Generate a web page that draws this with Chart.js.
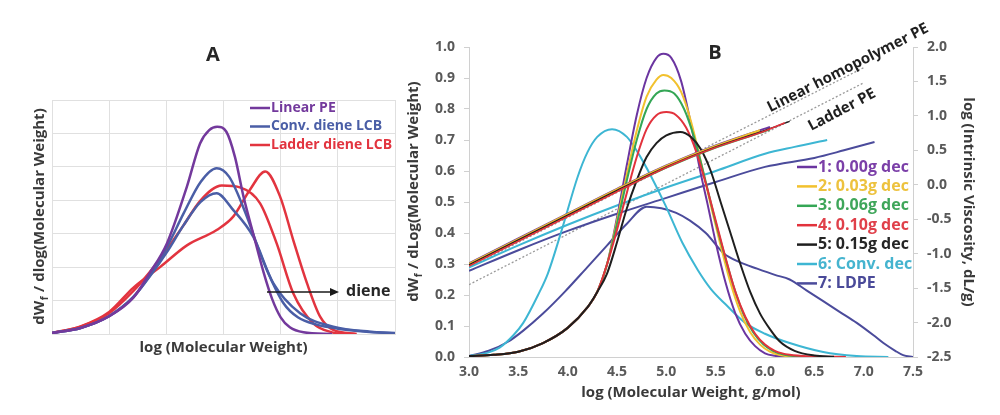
<!DOCTYPE html>
<html>
<head>
<meta charset="utf-8">
<script src="https://cdn.jsdelivr.net/npm/chart.js@4.4.1/dist/chart.umd.min.js"></script>
<style>
html,body{margin:0;padding:0;background:#fff;width:1000px;height:415px;overflow:hidden}
#wa{position:absolute;left:0;top:0;width:400px;height:415px}
#wb{position:absolute;left:380px;top:0;width:620px;height:415px}
canvas{display:block}
</style>
</head>
<body>
<div id="wa"><canvas id="ca" width="400" height="415"></canvas></div>
<div id="wb"><canvas id="cb" width="620" height="415"></canvas></div>
<script>
// ================= DATA =================
// ---- Panel A (schematic, arbitrary units: x 0..6, y 0..7) ----
const aLegendLabels = ['Linear PE', 'Conv. diene LCB', 'Ladder diene LCB'];
const aArrowLabel = 'diene';
const aLinearX = [0, 0.5, 1.0, 1.42, 1.7, 2.01, 2.36, 2.59, 2.75, 2.89, 3.05, 3.2, 3.35, 3.52, 3.7, 3.85, 4.0, 4.16, 4.4, 4.9];
const aLinearY = [0.03, 0.18, 0.53, 1.08, 1.8, 2.71, 4.41, 5.7, 6.1, 6.2, 6.05, 5.3, 4.11, 3.0, 1.85, 1.05, 0.5, 0.2, 0.05, 0];
const aConv1X = [0, 0.5, 1.0, 1.42, 1.71, 2.01, 2.3, 2.6, 2.88, 3.1, 3.41, 3.6, 3.76, 4.05, 4.3, 4.63, 5.0, 5.5, 6.0];
const aConv1Y = [0.03, 0.18, 0.53, 1.1, 1.75, 2.6, 3.6, 4.55, 4.96, 4.7, 3.51, 2.6, 1.91, 0.92, 0.5, 0.28, 0.16, 0.07, 0.02];
const aConv2X = [0, 0.5, 1.0, 1.42, 1.71, 2.01, 2.3, 2.6, 2.88, 3.15, 3.52, 3.87, 4.34, 4.92, 5.56, 6.0];
const aConv2Y = [0.03, 0.18, 0.54, 1.1, 1.72, 2.45, 3.25, 3.95, 4.21, 3.75, 2.91, 1.52, 0.62, 0.22, 0.07, 0.03];
const aLadder1X = [0, 0.5, 1.0, 1.42, 1.71, 2.0, 2.3, 2.6, 2.97, 3.3, 3.64, 3.93, 4.22, 4.57, 4.9, 5.1];
const aLadder1Y = [0.03, 0.22, 0.62, 1.28, 1.85, 2.5, 3.25, 4.0, 4.44, 4.38, 3.91, 2.71, 1.22, 0.32, 0.05, 0];
const aLadder2X = [0, 0.5, 1.0, 1.42, 1.89, 2.36, 2.88, 3.17, 3.46, 3.73, 3.99, 4.22, 4.46, 4.69, 4.92, 5.33];
const aLadder2Y = [0.03, 0.23, 0.66, 1.38, 2.0, 2.65, 3.11, 3.51, 4.31, 4.86, 4.11, 2.81, 1.52, 0.52, 0.12, 0];

// ---- Panel B ----
const bLegendLabels = ['1: 0.00g dec', '2: 0.03g dec', '3: 0.06g dec', '4: 0.10g dec', '5: 0.15g dec', '6: Conv. dec', '7: LDPE'];
const refLabels = ['Linear homopolymer PE', 'Ladder PE'];
// MWD curves, left axis: dWf/dLog(M)
const m1X = [3.0,3.25,3.5,3.75,4.0,4.2,4.3,4.4,4.5,4.6,4.7,4.8,4.9,4.97,5.05,5.15,5.25,5.35,5.42,5.5,5.6,5.7,5.8,5.9,6.0,6.1,6.2];
const m1Y = [0.003,0.007,0.017,0.045,0.094,0.16,0.21,0.30,0.45,0.62,0.78,0.90,0.965,0.978,0.965,0.89,0.75,0.59,0.49,0.37,0.24,0.14,0.075,0.035,0.012,0.004,0.001];
const m2X = [3.0,3.25,3.5,3.75,4.0,4.2,4.3,4.4,4.5,4.6,4.7,4.8,4.9,4.97,5.05,5.15,5.25,5.35,5.45,5.55,5.65,5.75,5.85,5.95,6.05,6.15,6.3];
const m2Y = [0.003,0.007,0.017,0.045,0.094,0.16,0.21,0.30,0.44,0.59,0.73,0.84,0.895,0.91,0.9,0.855,0.76,0.63,0.49,0.36,0.24,0.145,0.08,0.04,0.017,0.006,0.001];
const m3X = [3.0,3.25,3.5,3.75,4.0,4.2,4.3,4.4,4.5,4.6,4.7,4.8,4.9,4.98,5.08,5.18,5.28,5.38,5.48,5.58,5.68,5.78,5.88,5.98,6.08,6.2,6.4];
const m3Y = [0.003,0.007,0.017,0.045,0.094,0.16,0.21,0.30,0.43,0.57,0.70,0.80,0.85,0.86,0.85,0.80,0.71,0.59,0.46,0.34,0.23,0.14,0.08,0.042,0.02,0.007,0.001];
const m4X = [3.0,3.25,3.5,3.75,4.0,4.2,4.3,4.4,4.5,4.6,4.7,4.8,4.9,5.0,5.1,5.2,5.3,5.4,5.5,5.6,5.7,5.8,5.9,6.0,6.1,6.25,6.5,6.82];
const m4Y = [0.003,0.007,0.017,0.045,0.094,0.16,0.21,0.30,0.41,0.53,0.645,0.735,0.78,0.79,0.78,0.74,0.665,0.56,0.44,0.32,0.21,0.13,0.075,0.04,0.02,0.007,0.002,0];
const m5X = [3.0,3.25,3.5,3.75,4.0,4.2,4.3,4.4,4.5,4.6,4.7,4.8,4.9,5.0,5.14,5.25,5.35,5.45,5.55,5.65,5.75,5.85,5.95,6.05,6.15,6.3,6.5,6.7];
const m5Y = [0.003,0.007,0.017,0.045,0.094,0.16,0.21,0.27,0.37,0.48,0.57,0.645,0.69,0.715,0.726,0.71,0.67,0.6,0.5,0.4,0.3,0.21,0.14,0.09,0.05,0.02,0.005,0.001];
const m6X = [3.0,3.2,3.31,3.45,3.55,3.7,3.8,3.95,4.1,4.2,4.3,4.45,4.6,4.71,4.85,4.99,5.16,5.32,5.45,5.6,5.8,6.0,6.25,6.59,6.93,7.25];
const m6Y = [0.003,0.015,0.03,0.07,0.11,0.2,0.27,0.42,0.58,0.66,0.71,0.735,0.71,0.66,0.58,0.49,0.37,0.28,0.22,0.17,0.11,0.075,0.045,0.016,0.003,0];
const m7X = [3.0,3.2,3.4,3.55,3.75,3.97,4.2,4.4,4.6,4.8,4.95,5.1,5.24,5.4,5.58,5.75,5.92,6.1,6.25,6.42,6.59,6.76,6.93,7.1,7.2,7.32,7.4,7.5];
const m7Y = [0.003,0.02,0.05,0.085,0.14,0.21,0.29,0.36,0.43,0.485,0.48,0.465,0.44,0.4,0.335,0.305,0.285,0.265,0.25,0.215,0.18,0.145,0.11,0.07,0.045,0.02,0.006,0];
// intrinsic viscosity curves, right axis: log [eta]
const v1X = [3.0,3.5,4.0,4.5,5.0,5.5,6.05];
const v1Y = [-1.14,-0.78,-0.42,-0.06,0.28,0.57,0.84];
const v2X = [3.0,3.5,4.0,4.5,5.0,5.5,5.95];
const v2Y = [-1.15,-0.79,-0.43,-0.07,0.27,0.56,0.79];
const v3X = [3.0,3.5,4.0,4.5,5.0,5.5,6.05];
const v3Y = [-1.17,-0.81,-0.45,-0.09,0.25,0.54,0.8];
const v4X = [3.0,3.5,4.0,4.5,5.0,5.5,6.0,6.2];
const v4Y = [-1.18,-0.82,-0.46,-0.1,0.25,0.54,0.78,0.9];
const v5X = [3.0,3.5,4.0,4.5,5.0,5.5,6.0,6.25];
const v5Y = [-1.16,-0.8,-0.44,-0.08,0.26,0.55,0.79,0.92];
const v6X = [3.0,3.5,4.0,4.5,5.0,5.5,6.0,6.3,6.63];
const v6Y = [-1.2,-0.88,-0.58,-0.3,-0.04,0.2,0.45,0.55,0.65];
const v7X = [3.0,3.5,4.0,4.5,5.0,5.5,6.0,6.5,6.8,7.11];
const v7Y = [-1.25,-0.95,-0.67,-0.42,-0.19,0.04,0.26,0.39,0.5,0.62];
// reference (dotted) Mark-Houwink lines
const refLinearX = [3.0, 7.0];
const refLinearY = [-1.2, 1.7];
const refLadderX = [3.0, 7.0];
const refLadderY = [-1.45, 1.48];

// ================= STYLE =================
const FONT = "'Open Sans', 'DejaVu Sans', sans-serif";
const colA = ['#73399C', '#4A5EA6', '#E2343F'];
const colB = ['#6B35A0', '#F2C12E', '#34A655', '#E2323C', '#1E1E1E', '#3DB6D3', '#4B4B9B'];
const txtB = ['#7B3FA8', '#EDC23E', '#3FA65A', '#E0404A', '#262626', '#45B4CF', '#4A4A99'];
const pts = (xs, ys) => xs.map((x, i) => ({x: x, y: ys[i]}));

function drawSubTitle(ctx, x, y, a, sub, b, size) {
  ctx.save();
  ctx.translate(x, y);
  ctx.rotate(-Math.PI / 2);
  ctx.fillStyle = '#3a3a3a';
  ctx.textBaseline = 'middle';
  ctx.textAlign = 'left';
  const fMain = `bold ${size}px ${FONT}`;
  const fSub = `bold ${Math.round(size * 0.65)}px ${FONT}`;
  ctx.font = fMain;
  const wa = ctx.measureText(a).width, wb = ctx.measureText(b).width;
  ctx.font = fSub;
  const ws = ctx.measureText(sub).width;
  let cx = -(wa + ws + wb) / 2;
  ctx.font = fMain; ctx.fillText(a, cx, 0); cx += wa;
  ctx.font = fSub; ctx.fillText(sub, cx + 0.5, size * 0.32); cx += ws + 1;
  ctx.font = fMain; ctx.fillText(b, cx, 0);
  ctx.restore();
}

// ================= PANEL A =================
const panelAPlugin = {
  id: 'panelA',
  afterDraw(chart) {
    const ctx = chart.ctx, ca = chart.chartArea;
    ctx.save();
    ctx.fillStyle = '#262626';
    ctx.font = `bold 20px ${FONT}`;
    ctx.textAlign = 'center';
    ctx.textBaseline = 'middle';
    ctx.fillText('A', 213, 55);
    drawSubTitle(ctx, 40, (ca.top + ca.bottom) / 2, 'dW', 'f', ' / dlog(Molecular Weight)', 15);
    // legend
    ctx.font = `bold 14px ${FONT}`;
    ctx.textAlign = 'left';
    aLegendLabels.forEach((lab, i) => {
      const y = 108 + i * 18.5;
      ctx.strokeStyle = colA[i];
      ctx.lineWidth = 2.5;
      ctx.beginPath(); ctx.moveTo(250, y); ctx.lineTo(270, y); ctx.stroke();
      ctx.fillStyle = colA[i];
      ctx.fillText(lab, 271, y);
    });
    // arrow
    ctx.strokeStyle = '#1a1a1a';
    ctx.lineWidth = 1.5;
    ctx.beginPath(); ctx.moveTo(267, 292); ctx.lineTo(332, 292); ctx.stroke();
    ctx.fillStyle = '#1a1a1a';
    ctx.beginPath(); ctx.moveTo(339, 292); ctx.lineTo(330, 288); ctx.lineTo(330, 296); ctx.closePath(); ctx.fill();
    ctx.font = `bold 16px ${FONT}`;
    ctx.fillStyle = '#262626';
    ctx.fillText(aArrowLabel, 346, 291);
    ctx.restore();
  }
};

const gridA = {color: '#e0e0e0', lineWidth: 1, drawTicks: false};
new Chart(document.getElementById('ca'), {
  type: 'line',
  data: {
    datasets: [
      {label: aLegendLabels[0], data: pts(aLinearX, aLinearY), borderColor: colA[0]},
      {label: aLegendLabels[1], data: pts(aConv1X, aConv1Y), borderColor: colA[1]},
      {label: aLegendLabels[1] + ' (b)', data: pts(aConv2X, aConv2Y), borderColor: colA[1]},
      {label: aLegendLabels[2], data: pts(aLadder1X, aLadder1Y), borderColor: colA[2]},
      {label: aLegendLabels[2] + ' (b)', data: pts(aLadder2X, aLadder2Y), borderColor: colA[2]}
    ]
  },
  options: {
    responsive: false,
    animation: false,
    layout: {padding: {top: 100, right: 5, left: 0, bottom: 0}, autoPadding: false},
    plugins: {legend: {display: false}, tooltip: {enabled: false}},
    elements: {point: {radius: 0}, line: {cubicInterpolationMode: 'monotone', borderWidth: 2.5, fill: false}},
    scales: {
      x: {
        type: 'linear', min: 0, max: 6,
        ticks: {display: false, stepSize: 1},
        grid: gridA, border: {color: '#e0e0e0'},
        title: {display: true, text: 'log (Molecular Weight)', color: '#3a3a3a', font: {family: FONT, size: 15, weight: 'bold'}, padding: {top: 0, bottom: 58}},
        afterFit(s) { s.height = 81; }
      },
      y: {
        type: 'linear', min: 0, max: 7,
        ticks: {display: false, stepSize: 1},
        grid: gridA, border: {color: '#e0e0e0'},
        afterFit(s) { s.width = 52; }
      }
    }
  },
  plugins: [panelAPlugin]
});

// ================= PANEL B =================
const panelBPlugin = {
  id: 'panelB',
  afterDraw(chart) {
    const ctx = chart.ctx;
    ctx.save();
    ctx.fillStyle = '#262626';
    ctx.font = `bold 20px ${FONT}`;
    ctx.textAlign = 'center';
    ctx.textBaseline = 'middle';
    ctx.fillText('B', 335, 53);
    drawSubTitle(ctx, 34, 192, 'dW', 'f', ' / dLog(Molecular Weight)', 15);
    // legend
    ctx.font = `bold 16px ${FONT}`;
    ctx.textAlign = 'left';
    bLegendLabels.forEach((lab, i) => {
      const y = 167 + i * 19.4;
      ctx.strokeStyle = colB[i];
      ctx.lineWidth = 2.5;
      ctx.beginPath(); ctx.moveTo(417, y); ctx.lineTo(437, y); ctx.stroke();
      ctx.fillStyle = txtB[i];
      ctx.fillText(lab, 438, y);
    });
    // rotated reference line labels
    ctx.fillStyle = '#1f1f1f';
    ctx.font = `bold 15px ${FONT}`;
    ctx.textAlign = 'center';
    ctx.save();
    ctx.translate(468, 68); ctx.rotate(-27 * Math.PI / 180);
    ctx.fillText(refLabels[0], 0, 0);
    ctx.restore();
    ctx.save();
    ctx.translate(462, 110); ctx.rotate(-28 * Math.PI / 180);
    ctx.fillText(refLabels[1], 0, 0);
    ctx.restore();
    ctx.restore();
  }
};

const tickFontB = {family: FONT, size: 14, weight: 'bold'};
const mwd = (xs, ys, i) => ({label: bLegendLabels[i], data: pts(xs, ys), borderColor: colB[i], borderWidth: 2, yAxisID: 'y'});
const visc = (xs, ys, i, w) => ({label: bLegendLabels[i] + ' [eta]', data: pts(xs, ys), borderColor: colB[i], borderWidth: w, yAxisID: 'y2'});

// dataset index 0 is drawn on top
new Chart(document.getElementById('cb'), {
  type: 'line',
  data: {
    datasets: [
      visc(v4X, v4Y, 3, 1.6),
      visc(v5X, v5Y, 4, 1.4),
      visc(v2X, v2Y, 1, 2.4),
      visc(v3X, v3Y, 2, 2),
      visc(v1X, v1Y, 0, 2),
      mwd(m5X, m5Y, 4),
      mwd(m4X, m4Y, 3),
      mwd(m3X, m3Y, 2),
      mwd(m2X, m2Y, 1),
      mwd(m1X, m1Y, 0),
      mwd(m6X, m6Y, 5),
      mwd(m7X, m7Y, 6),
      visc(v6X, v6Y, 5, 2),
      visc(v7X, v7Y, 6, 2),
      {label: refLabels[0], data: pts(refLinearX, refLinearY), borderColor: '#9a9a9a', borderWidth: 1.3, borderDash: [2, 2], yAxisID: 'y2', cubicInterpolationMode: 'default', tension: 0},
      {label: refLabels[1], data: pts(refLadderX, refLadderY), borderColor: '#9a9a9a', borderWidth: 1.3, borderDash: [2, 2], yAxisID: 'y2', cubicInterpolationMode: 'default', tension: 0}
    ]
  },
  options: {
    responsive: false,
    animation: false,
    layout: {padding: {top: 47, right: 0, left: 0, bottom: 0}, autoPadding: false},
    plugins: {legend: {display: false}, tooltip: {enabled: false}},
    elements: {point: {radius: 0}, line: {cubicInterpolationMode: 'monotone', fill: false}},
    scales: {
      x: {
        type: 'linear', min: 3, max: 7.5,
        ticks: {stepSize: 0.5, color: '#595959', font: tickFontB, padding: 3, callback: v => Number(v).toFixed(1)},
        grid: {drawOnChartArea: false, drawTicks: true, tickLength: 4, tickColor: 'rgba(0,0,0,0)'},
        border: {color: '#d0d0d0'},
        title: {display: true, text: 'log (Molecular Weight, g/mol)', color: '#3a3a3a', font: {family: FONT, size: 15, weight: 'bold'}, padding: {top: 0, bottom: 13}},
        afterFit(s) { s.height = 58; }
      },
      y: {
        type: 'linear', position: 'left', min: 0, max: 1,
        ticks: {stepSize: 0.1, color: '#595959', font: tickFontB, padding: 9, callback: v => Number(v).toFixed(1)},
        grid: {drawOnChartArea: false, drawTicks: true, tickLength: 5, tickColor: '#d0d0d0'},
        border: {color: '#d0d0d0'},
        afterFit(s) { s.width = 89; }
      },
      y2: {
        type: 'linear', position: 'right', min: -2.5, max: 2.0,
        ticks: {stepSize: 0.5, color: '#595959', font: tickFontB, padding: 9, callback: v => Number(v).toFixed(1)},
        grid: {drawOnChartArea: false, drawTicks: true, tickLength: 5, tickColor: '#d0d0d0'},
        border: {color: '#d0d0d0'},
        title: {display: true, text: 'log (Intrinsic Viscosity, dL/g)', color: '#3a3a3a', font: {family: FONT, size: 15, weight: 'bold'}, padding: {top: 23, bottom: 0}},
        afterFit(s) { s.width = 87; }
      }
    }
  },
  plugins: [panelBPlugin]
});
</script>
</body>
</html>
